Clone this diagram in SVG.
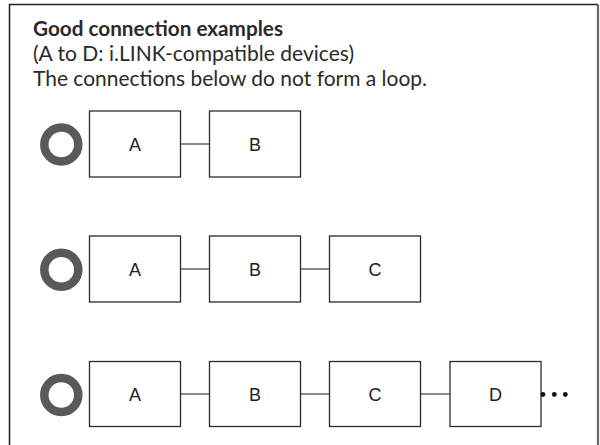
<svg xmlns="http://www.w3.org/2000/svg" width="600" height="445" viewBox="0 0 600 445">
<style>
.box{fill:#fff;stroke:#2b2b2b;stroke-width:1.3}
.lbl{font-family:"Liberation Sans",Arial,sans-serif;font-size:18px;fill:#222;text-anchor:middle}
.ring{fill:none;stroke:#58595b;stroke-width:8.5}
.wire{stroke:#6d6e70;stroke-width:1.6;fill:none}
.head{font-family:Lato,"Open Sans",sans-serif;fill:#2a2a2a}
</style>
<rect x="0" y="0" width="600" height="445" fill="#fff"/>
<path d="M9.5,446 V4.5 H598" fill="none" stroke="#222" stroke-width="1.5"/>
<path d="M598,4.5 V446" fill="none" stroke="#666" stroke-width="2.2"/>
<g id="heading">
<text class="head" x="33" y="36" font-size="20.5" font-weight="bold" textLength="250" lengthAdjust="spacingAndGlyphs">Good connection examples</text>
<text class="head" x="33" y="61" font-size="21" textLength="321" lengthAdjust="spacingAndGlyphs">(A to D: i.LINK-compatible devices)</text>
<text class="head" x="33" y="86" font-size="21" textLength="394" lengthAdjust="spacingAndGlyphs">The connections below do not form a loop.</text>
</g>
<g id="connectors">
<line class="wire" x1="180.5" y1="144" x2="209.5" y2="144"/>
<line class="wire" x1="180.5" y1="269" x2="209.5" y2="269"/>
<line class="wire" x1="300.5" y1="269" x2="329.5" y2="269"/>
<line class="wire" x1="180.5" y1="394" x2="209.5" y2="394"/>
<line class="wire" x1="300.5" y1="394" x2="329.5" y2="394"/>
<line class="wire" x1="420.5" y1="394" x2="450" y2="394"/>
</g>
<g id="ok1"><circle class="ring" cx="61.3" cy="144.5" r="17"/></g>
<g id="ok2"><circle class="ring" cx="61.3" cy="269.8" r="17"/></g>
<g id="ok3"><circle class="ring" cx="61.3" cy="395" r="17"/></g>
<g id="r1A"><rect class="box" x="89.5" y="111" width="91" height="66"/><text class="lbl" x="135" y="150.5">A</text></g>
<g id="r1B"><rect class="box" x="209.5" y="111" width="91" height="66"/><text class="lbl" x="255" y="150.5">B</text></g>
<g id="r2A"><rect class="box" x="89.5" y="236" width="91" height="66"/><text class="lbl" x="135" y="275.5">A</text></g>
<g id="r2B"><rect class="box" x="209.5" y="236" width="91" height="66"/><text class="lbl" x="255" y="275.5">B</text></g>
<g id="r2C"><rect class="box" x="329.5" y="236" width="91" height="66"/><text class="lbl" x="375" y="275.5">C</text></g>
<g id="r3A"><rect class="box" x="89.5" y="361.5" width="91" height="65"/><text class="lbl" x="135" y="400.5">A</text></g>
<g id="r3B"><rect class="box" x="209.5" y="361.5" width="91" height="65"/><text class="lbl" x="255" y="400.5">B</text></g>
<g id="r3C"><rect class="box" x="329.5" y="361.5" width="91" height="65"/><text class="lbl" x="375" y="400.5">C</text></g>
<g id="r3D"><rect class="box" x="450" y="361.5" width="91" height="65"/><text class="lbl" x="495.5" y="400.5">D</text></g>
<g id="more" fill="#111">
<circle cx="543" cy="394.5" r="2.4"/>
<circle cx="554.3" cy="394.5" r="2.4"/>
<circle cx="565.3" cy="394.5" r="2.4"/>
</g>
</svg>
